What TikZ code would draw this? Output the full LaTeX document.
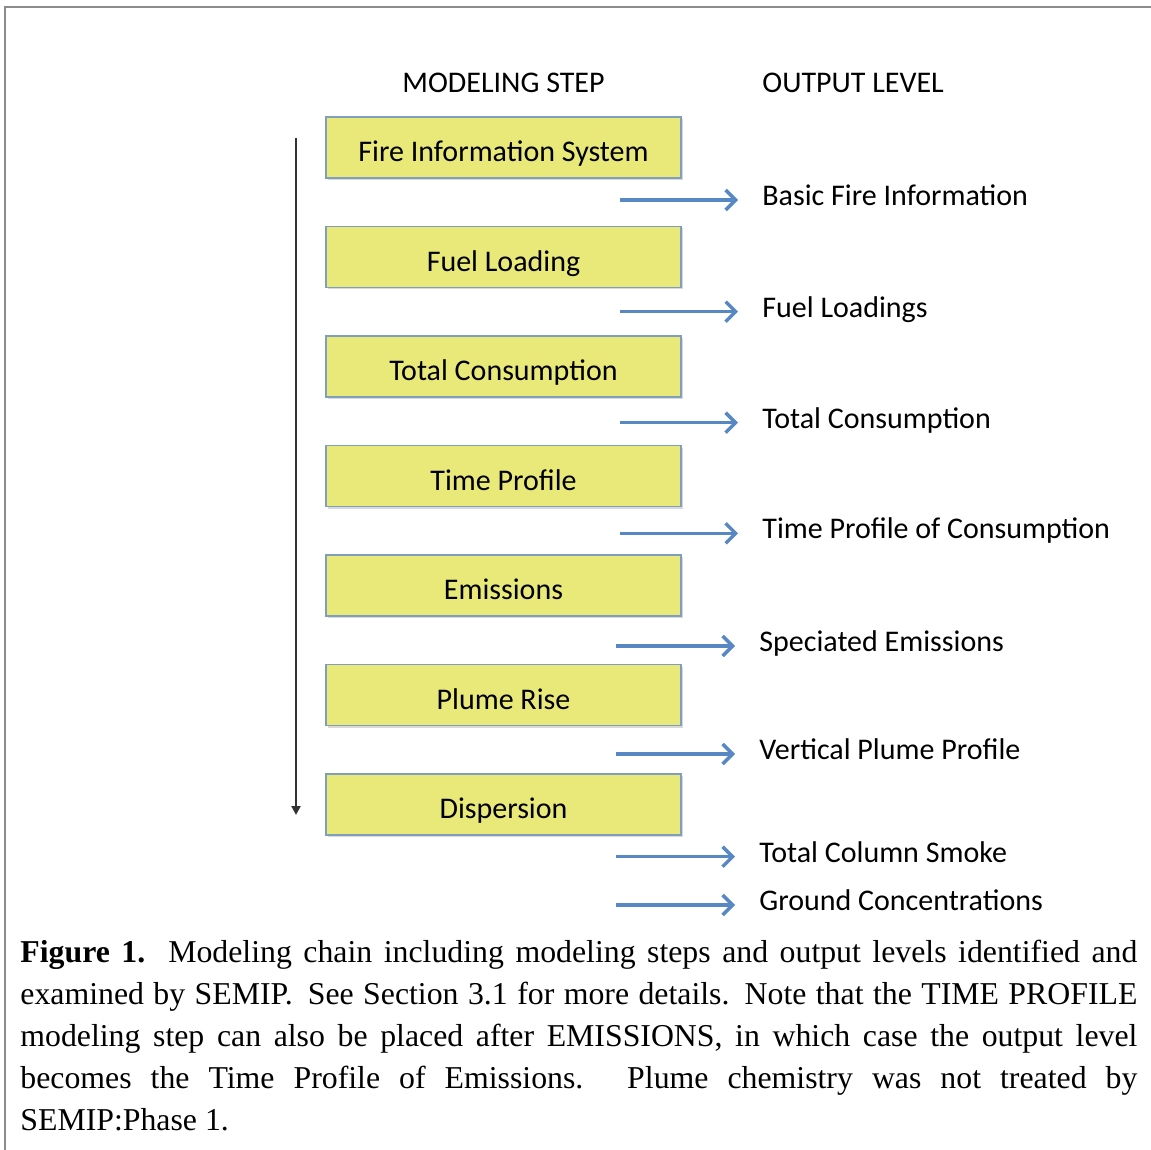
\documentclass[tikz,border=0pt]{standalone}
\usepackage{fontspec}
\setmainfont{Liberation Serif}
\newfontfamily\calibrifont{Carlito}
\usetikzlibrary{arrows.meta, shadows}
\definecolor{stepyellow}{RGB}{233, 233, 122}
\definecolor{stepedge}{RGB}{128, 158, 190}
\definecolor{flowblue}{RGB}{88, 136, 196}
\definecolor{framegray}{RGB}{140, 140, 140}

\begin{document}
\begin{tikzpicture}[x=0.5pt, y=-0.5pt,
  stepbox/.style={draw=stepedge, fill=stepyellow, line width=0.7pt, minimum width=177.5pt, minimum height=30.5pt, text height=14pt, text depth=0pt, inner sep=0pt, font=\calibrifont\fontsize{15}{18}\selectfont, drop shadow={shadow xshift=0.8pt, shadow yshift=-1pt, opacity=0.3}},
  outlabel/.style={anchor=base west, inner xsep=12pt, inner ysep=0pt, font=\calibrifont\fontsize{15}{18}\selectfont},
  headlabel/.style={inner sep=0pt, font=\calibrifont\fontsize{15}{18}\selectfont},
  flowarrow/.style={draw=flowblue, line width=1.7pt, -{Straight Barb[length=5pt, width=10pt]}},
  chainarrow/.style={draw=black!80, line width=1.1pt, -{Triangle[length=4.5pt, width=4.5pt]}}
]
  \useasboundingbox (0,0) rectangle (1151,1150);

  % frame
  \draw[framegray, line width=1pt] (1151,7) -- (5,7) -- (5,1150);

  % column heads
  \node[headlabel, anchor=base] (stephead) at (503.5,93) {MODELING STEP};
  \node[headlabel, anchor=base west] (outhead) at (762,93) {OUTPUT LEVEL};

  % modeling steps
  \node[stepbox] (fis) at (503.5,147.5) {Fire Information System};
  \node[stepbox] (fuel) at (503.5,257) {Fuel Loading};
  \node[stepbox] (cons) at (503.5,366.5) {Total Consumption};
  \node[stepbox] (time) at (503.5,476) {Time Profile};
  \node[stepbox] (emis) at (503.5,585.5) {Emissions};
  \node[stepbox] (plume) at (503.5,695) {Plume Rise};
  \node[stepbox] (disp) at (503.5,804.5) {Dispersion};

  % order of the chain
  \coordinate (chaintop) at (296,138);
  \coordinate (chainend) at (296,815);
  \draw[chainarrow] (chaintop) -- (chainend);

  % output levels
  \node[outlabel] (basic) at (738,205.5) {Basic Fire Information};
  \node[outlabel] (loads) at (738,317.2) {Fuel Loadings};
  \node[outlabel] (total) at (738,428.2) {Total Consumption};
  \node[outlabel] (tprof) at (738,538.8) {Time Profile of Consumption};
  \node[outlabel] (spec) at (735,651.5) {Speciated Emissions};
  \node[outlabel] (vert) at (735,759.5) {Vertical Plume Profile};
  \node[outlabel] (smoke) at (735,862.2) {Total Column Smoke};
  \node[outlabel] (ground) at (735,910.5) {Ground Concentrations};

  \coordinate (a1) at (620,200);
  \coordinate (a2) at (620,311.7);
  \coordinate (a3) at (620,422.7);
  \coordinate (a4) at (620,533.3);
  \coordinate (a5) at (616,646);
  \coordinate (a6) at (616,754);
  \coordinate (a7) at (616,856.7);
  \coordinate (a8) at (616,905);
  \draw[flowarrow] (a1) -- (a1 -| basic.west);
  \draw[flowarrow] (a2) -- (a2 -| loads.west);
  \draw[flowarrow] (a3) -- (a3 -| total.west);
  \draw[flowarrow] (a4) -- (a4 -| tprof.west);
  \draw[flowarrow] (a5) -- (a5 -| spec.west);
  \draw[flowarrow] (a6) -- (a6 -| vert.west);
  \draw[flowarrow] (a7) -- (a7 -| smoke.west);
  \draw[flowarrow] (a8) -- (a8 -| ground.west);

  % caption
  \node[anchor=north west, text width=558.5pt, align=justify, inner sep=0pt, font=\fontsize{15.9}{21}\selectfont] (caption) at (20,940) {
    \textbf{Figure 1.}\ \ Modeling chain including modeling steps and output levels identified and\linebreak
    examined by SEMIP\@.  See Section 3.1 for more details.  Note that the TIME PROFILE\linebreak
    modeling step can also be placed after EMISSIONS, in which case the output level\linebreak
    becomes the Time Profile of Emissions.  Plume chemistry was not treated by\linebreak
    SEMIP:Phase 1.
  };
\end{tikzpicture}
\end{document}
